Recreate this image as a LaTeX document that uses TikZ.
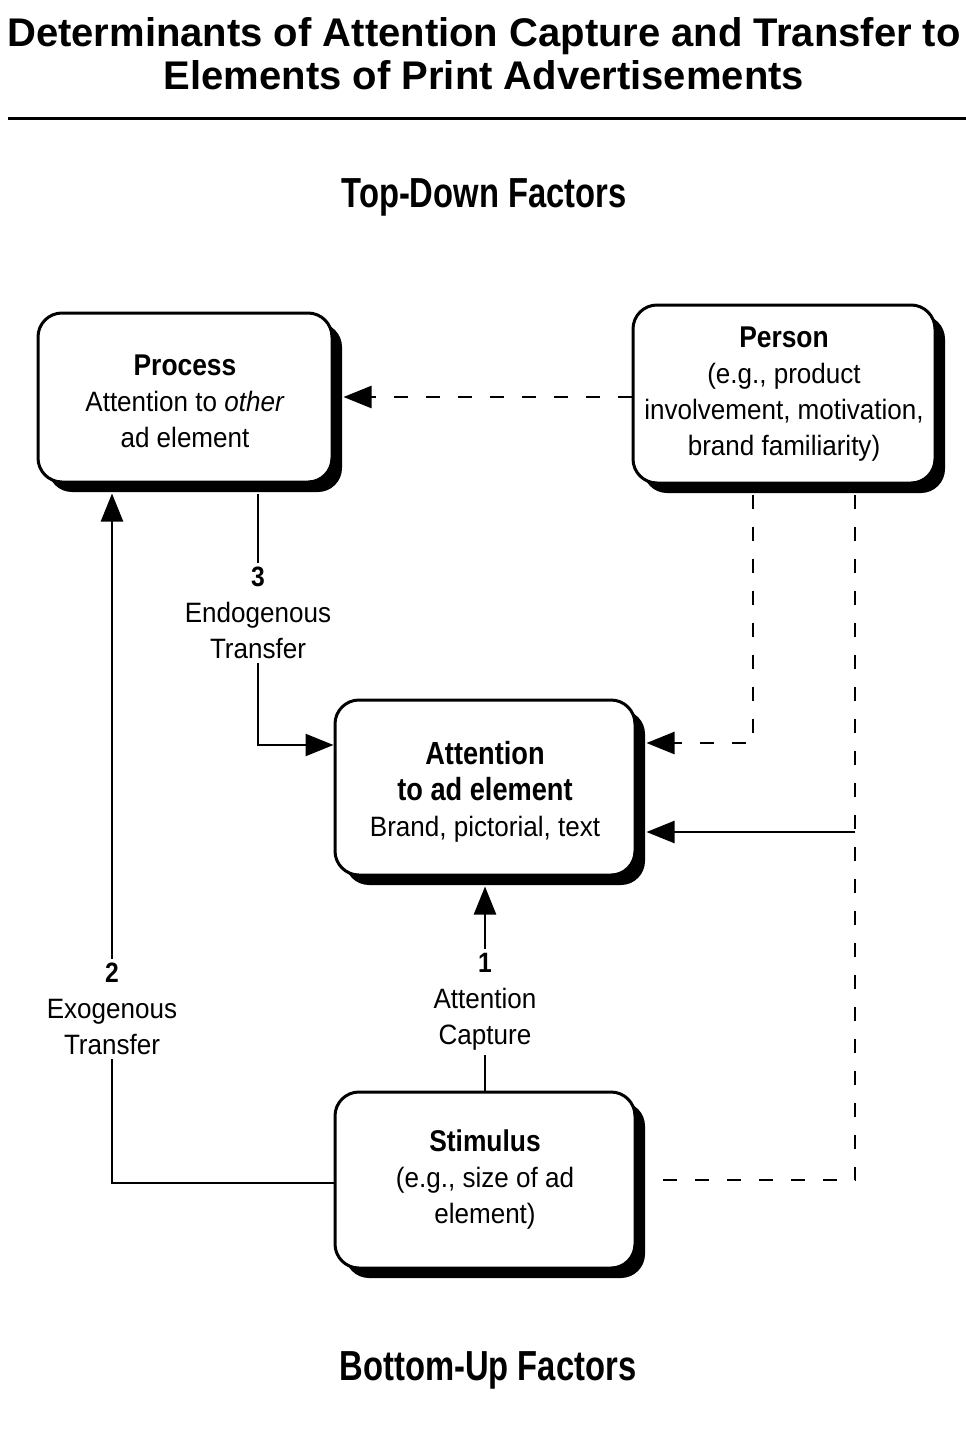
\documentclass[tikz,border=0pt]{standalone}
\usepackage{fontspec}
\setmainfont{Liberation Sans}
\newfontfamily\regf[FakeStretch=0.93]{Liberation Sans}
\newfontfamily\bcond[FakeStretch=0.88]{Liberation Sans}
\newfontfamily\bnarrow[FakeStretch=0.85]{Liberation Sans}
\newfontfamily\headf[FakeStretch=0.78]{Liberation Sans}
\usetikzlibrary{arrows.meta,shadows}
\begin{document}
\begin{tikzpicture}[x=1pt,y=-1pt,
  box/.style={draw, line width=3pt, rounded corners=24pt, fill=white, align=center, inner sep=0pt,
    font=\regf\fontsize{28}{36}\selectfont,
    general shadow={fill=black, shadow xshift=10pt, shadow yshift=-10pt}},
  conn/.style={line width=2.5pt},
  dashconn/.style={line width=2.5pt, dash pattern=on 14pt off 18pt},
  tip/.style={-{Triangle[length=28pt,width=22pt]}},
  lbl/.style={fill=white, align=center, inner sep=4pt, font=\regf\fontsize{28}{36}\selectfont},
  head/.style={font=\headf\bfseries\fontsize{42}{44}\selectfont}
]
\useasboundingbox (0,0) rectangle (966,1430);
\fill[white] (0,0) rectangle (966,1430);

\node[font=\bfseries\fontsize{40}{43}\selectfont, align=center] (title) at (484,54)
  {Determinants of Attention Capture and Transfer to\\Elements of Print Advertisements};
\draw[line width=3pt] (8,118) -- (966,118);

\node[head] (top) at (484,197) {Top-Down Factors};
\node[head] (bottom) at (488,1370) {Bottom-Up Factors};

\node[box, minimum width=294pt, minimum height=169pt] (process) at (185,397.5)
  {\raisebox{-7pt}[\height][\depth]{\begin{tabular}{@{}c@{}}{\bcond\bfseries\fontsize{30}{36}\selectfont Process}\\Attention to \textit{other}\\ad element\end{tabular}}};
\node[box, minimum width=302pt, minimum height=178pt] (person) at (784,394)
  {{\bcond\bfseries\fontsize{30}{36}\selectfont Person}\\(e.g., product\\involvement, motivation,\\brand familiarity)};
\node[box, minimum width=300pt, minimum height=175pt] (attention) at (485,787.5)
  {\raisebox{-6pt}[\height][\depth]{\begin{tabular}{@{}c@{}}{\bnarrow\bfseries\fontsize{32}{36}\selectfont Attention}\\{\bnarrow\bfseries\fontsize{32}{36}\selectfont to ad element}\\Brand, pictorial, text\end{tabular}}};
\node[box, minimum width=300pt, minimum height=176pt] (stimulus) at (485,1180)
  {{\bcond\bfseries\fontsize{30}{36}\selectfont Stimulus}\\(e.g., size of ad\\element)};

% Person -> Process
\draw[dashconn, tip] (person.west |- 0,397) -- ([xshift=10pt]process.east |- 0,397);
% Endogenous transfer
\draw[conn, tip] ([yshift=-10pt]process.south -| 258,0) -- (258,745) -- (attention.west |- 0,745);
\node[lbl] (endo) at (258,613) {{\bcond\bfseries 3}\\Endogenous\\Transfer};
% Attention capture
\draw[conn, tip] (stimulus.north) -- ([yshift=-10pt]attention.south);
\node[lbl] (capt) at (485,1002) {{\bcond\bfseries 1}\\Attention\\Capture};
% Exogenous transfer
\draw[conn, tip] (stimulus.west |- 0,1183) -- (112,1183) -- ([yshift=-10pt]process.south -| 112,0);
\node[lbl] (exo) at (112,1009) {{\bcond\bfseries 2}\\Exogenous\\Transfer};
% Person -> Attention
\draw[dashconn, tip] ([yshift=-10pt]person.south -| 753,0) -- (753,743) -- ([xshift=10pt]attention.east |- 0,743);
% Person & Stimulus -> Attention
\coordinate (j) at (855,832);
\draw[dashconn] ([yshift=-10pt]person.south -| 855,0) -- (855,1180) -- ([xshift=10pt]stimulus.east |- 0,1180);
\draw[conn, tip] (j) -- ([xshift=10pt]attention.east |- j);
\end{tikzpicture}
\end{document}
